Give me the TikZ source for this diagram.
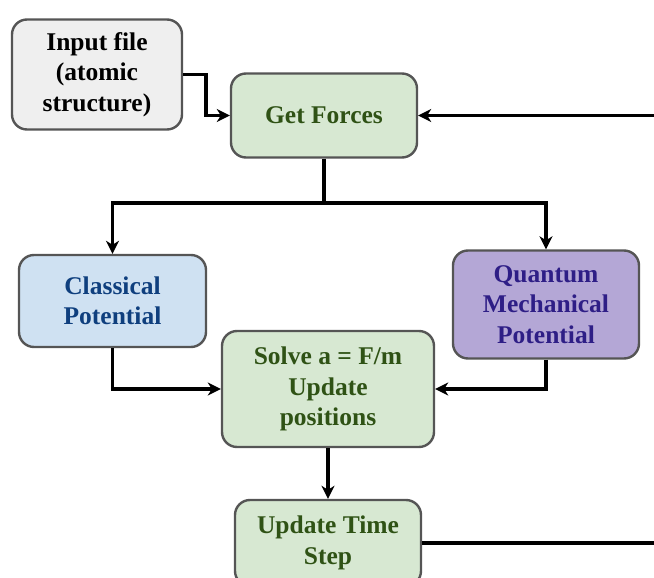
\documentclass[tikz,border=0pt]{standalone}
\usepackage{fontspec}
\setmainfont{Liberation Serif}
\usetikzlibrary{arrows.meta}
\definecolor{greyfill}{HTML}{EFEFEF}
\definecolor{greenfill}{HTML}{D7E8D2}
\definecolor{greentext}{HTML}{2F5215}
\definecolor{bluefill}{HTML}{CFE1F2}
\definecolor{bluetext}{HTML}{0F3F7E}
\definecolor{purplefill}{HTML}{B4A7D6}
\definecolor{purpletext}{HTML}{2E1E86}
\definecolor{edge}{HTML}{555555}
\tikzset{
  box/.style={draw=edge, line width=2.4pt, rounded corners=15pt, align=center,
    font=\fontsize{25.5}{30.5}\selectfont\bfseries, inner sep=2pt},
  conn/.style={line width=3.6pt, black},
  arr/.style={conn, -{Stealth[length=13pt,width=13pt,inset=4pt]}},
}
\begin{document}
\begin{tikzpicture}[x=1pt,y=-1pt]
\useasboundingbox (0,0) rectangle (654,578);
\clip (0,0) rectangle (654,578);

\node[box, fill=greyfill, text=black, minimum width=170, minimum height=110]
  (in) at (97,74.5) {Input file\\(atomic\\structure)};
\node[box, fill=greenfill, text=greentext, minimum width=186, minimum height=84]
  (gf) at (324,115.5) {Get Forces};
\node[box, fill=bluefill, text=bluetext, minimum width=187, minimum height=92]
  (cp) at (112.5,301) {Classical\\Potential};
\node[box, fill=purplefill, text=purpletext, minimum width=186, minimum height=108]
  (qm) at (546,304.5) {Quantum\\Mechanical\\Potential};
\node[box, fill=greenfill, text=greentext, minimum width=212, minimum height=116]
  (sv) at (328,389) {Solve a = F/m\\Update\\positions};
\node[box, fill=greenfill, text=greentext, minimum width=186, minimum height=86]
  (ut) at (328,543) {Update Time\\Step};

\coordinate (split) at (324,203);
\coordinate (loopin) at (656,115.5);
\coordinate (loopout) at (656,543);

\draw[arr] (in.east) -- ++(23,0) |- (gf.west);
\draw[arr] (loopin) -- (gf.east);
\draw[conn] (gf.south) -- (split);
\draw[arr] (split) -| (cp.north);
\draw[arr] (split) -| (qm.north);
\draw[arr] (cp.south) |- (sv.west);
\draw[arr] (qm.south) |- (sv.east);
\draw[arr] (sv.south) -- (ut.north);
\draw[conn] (ut.east) -- (loopout);
\end{tikzpicture}
\end{document}
